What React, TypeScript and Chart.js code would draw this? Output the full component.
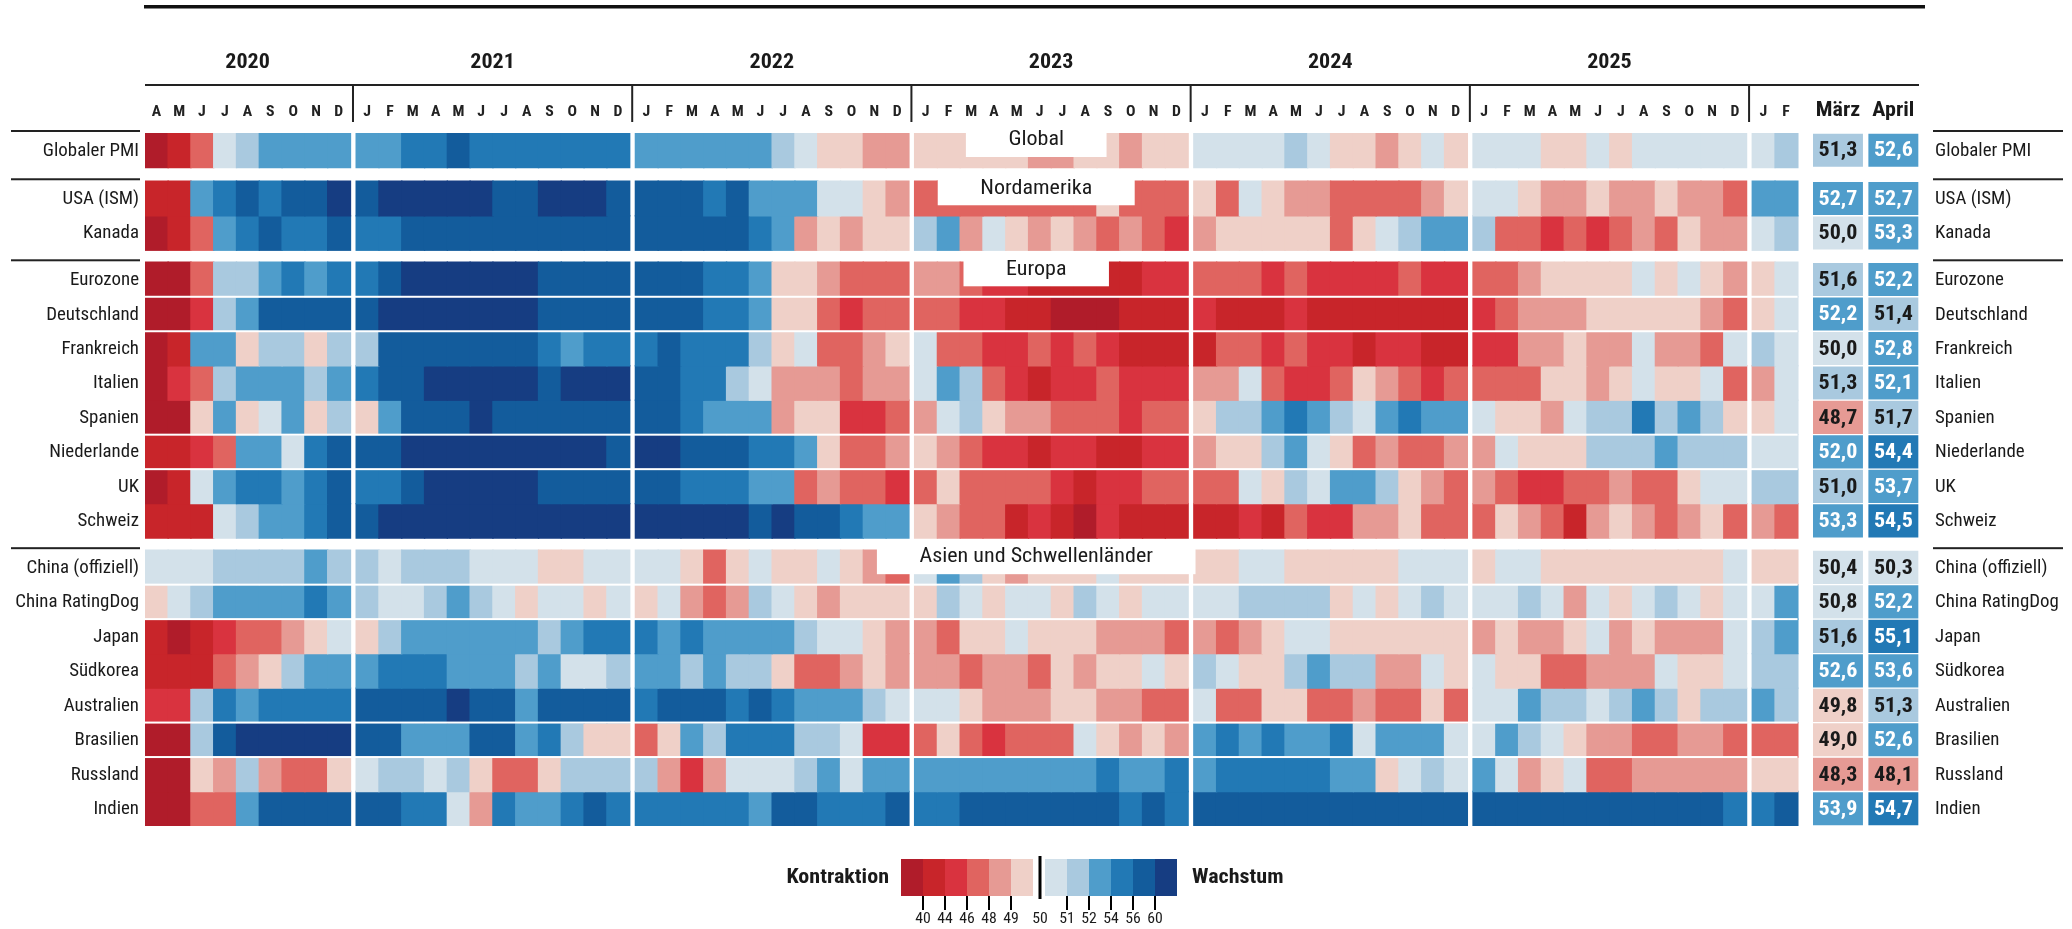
import React, { useEffect, useRef } from 'react';
import { Chart, registerables } from 'chart.js';

Chart.register(...registerables);

// ---------------- DATA ----------------
const yearLabels = ['2020', '2021', '2022', '2023', '2024', '2025', ''];
const months2020 = ['A', 'M', 'J', 'J', 'A', 'S', 'O', 'N', 'D'];
const monthsFull = ['J', 'F', 'M', 'A', 'M', 'J', 'J', 'A', 'S', 'O', 'N', 'D'];
const months2026 = ['J', 'F'];
const yearMonthLetters = [months2020, monthsFull, monthsFull, monthsFull, monthsFull, monthsFull, months2026];

const groupTitles = ['Global', 'Nordamerika', 'Europa', 'Asien und Schwellenländer'];
const groupRows = [
  ['Globaler PMI'],
  ['USA (ISM)', 'Kanada'],
  ['Eurozone', 'Deutschland', 'Frankreich', 'Italien', 'Spanien', 'Niederlande', 'UK', 'Schweiz'],
  ['China (offiziell)', 'China RatingDog', 'Japan', 'Südkorea', 'Australien', 'Brasilien', 'Russland', 'Indien'],
];

// monthly PMI estimates, Apr 2020 … Feb 2026 (71 values each)
const pmiGlobal = [
  38, 42, 47, 50.5, 51.5, 53, 53, 53, 53,
  53, 53, 55, 55, 58, 55, 55, 55, 55, 55, 55, 55,
  53, 53, 53, 53, 53, 53, 51.5, 50.5, 49.5, 49.5, 48.5, 48.5,
  49.5, 49.5, 49.5, 49.5, 49.5, 48.5, 48.5, 49.5, 49.5, 48.5, 49.5, 49.5,
  50.5, 50.5, 50.5, 50.5, 51.5, 50.5, 49.5, 49.5, 48.5, 49.5, 50.5, 49.5,
  50.5, 50.5, 50.5, 49.5, 49.5, 50.5, 49.5, 50.5, 50.5, 50.5, 50.5, 50.5,
  50.5, 51.5,
];
const pmiUSA = [
  42, 42, 53, 55, 58, 55, 58, 58, 62,
  58, 62, 62, 62, 62, 62, 58, 58, 62, 62, 62, 58,
  58, 58, 58, 55, 58, 53, 53, 53, 50.5, 50.5, 49.5, 48.5,
  47, 47, 47, 47, 47, 47, 47, 47, 49.5, 47, 47, 47,
  49.5, 47, 50.5, 49.5, 48.5, 48.5, 47, 47, 47, 47, 48.5, 49.5,
  50.5, 50.5, 49.5, 48.5, 48.5, 49.5, 48.5, 48.5, 49.5, 48.5, 48.5, 47,
  53, 53,
];
const pmiKanada = [
  38, 42, 47, 53, 55, 58, 55, 55, 58,
  55, 55, 58, 58, 58, 58, 58, 58, 58, 58, 58, 58,
  58, 58, 58, 58, 58, 55, 53, 48.5, 49.5, 48.5, 49.5, 49.5,
  51.5, 53, 48.5, 50.5, 49.5, 48.5, 49.5, 48.5, 47, 48.5, 47, 45,
  48.5, 49.5, 49.5, 49.5, 49.5, 49.5, 47, 49.5, 50.5, 51.5, 53, 53,
  51.5, 47, 47, 45, 47, 45, 47, 48.5, 47, 49.5, 48.5, 48.5,
  50.5, 51.5,
];
const pmiEurozone = [
  38, 38, 47, 51.5, 51.5, 53, 55, 53, 55,
  55, 58, 62, 62, 62, 62, 62, 62, 58, 58, 58, 58,
  58, 58, 58, 55, 55, 53, 49.5, 49.5, 48.5, 47, 47, 47,
  48.5, 48.5, 47, 45, 45, 42, 42, 42, 42, 42, 45, 45,
  47, 47, 47, 45, 47, 45, 45, 45, 45, 47, 45, 45,
  47, 47, 48.5, 49.5, 49.5, 49.5, 49.5, 50.5, 49.5, 50.5, 49.5, 48.5,
  49.5, 50.5,
];
const pmiDeutschland = [
  38, 38, 45, 51.5, 53, 58, 58, 58, 58,
  58, 62, 62, 62, 62, 62, 62, 62, 58, 58, 58, 58,
  58, 58, 58, 55, 55, 53, 49.5, 49.5, 47, 45, 47, 47,
  47, 47, 45, 45, 42, 42, 38, 38, 38, 42, 42, 42,
  45, 42, 42, 42, 45, 42, 42, 42, 42, 42, 42, 42,
  45, 47, 48.5, 48.5, 48.5, 49.5, 49.5, 49.5, 49.5, 49.5, 48.5, 47,
  49.5, 50.5,
];
const pmiFrankreich = [
  38, 42, 53, 53, 49.5, 51.5, 51.5, 49.5, 51.5,
  51.5, 58, 58, 58, 58, 58, 58, 58, 55, 53, 55, 55,
  55, 58, 55, 55, 55, 51.5, 49.5, 50.5, 47, 47, 48.5, 49.5,
  50.5, 47, 47, 45, 45, 47, 45, 47, 45, 42, 42, 42,
  42, 47, 47, 45, 47, 45, 45, 42, 45, 45, 42, 42,
  45, 45, 48.5, 48.5, 49.5, 48.5, 48.5, 50.5, 48.5, 48.5, 47, 50.5,
  51.5, 50.5,
];
const pmiItalien = [
  38, 45, 47, 51.5, 53, 53, 53, 51.5, 53,
  55, 58, 58, 62, 62, 62, 62, 62, 58, 62, 62, 62,
  58, 58, 55, 55, 51.5, 50.5, 48.5, 48.5, 48.5, 47, 48.5, 48.5,
  50.5, 53, 51.5, 47, 45, 42, 45, 45, 47, 45, 45, 45,
  48.5, 48.5, 50.5, 47, 45, 45, 47, 49.5, 48.5, 47, 45, 47,
  47, 47, 47, 49.5, 49.5, 48.5, 49.5, 50.5, 49.5, 49.5, 50.5, 47,
  48.5, 50.5,
];
const pmiSpanien = [
  38, 38, 49.5, 53, 49.5, 50.5, 53, 49.5, 51.5,
  49.5, 53, 58, 58, 58, 62, 58, 58, 58, 58, 58, 58,
  58, 58, 55, 53, 53, 53, 48.5, 49.5, 49.5, 45, 45, 47,
  48.5, 50.5, 51.5, 49.5, 48.5, 48.5, 47, 47, 47, 45, 47, 47,
  49.5, 51.5, 51.5, 53, 55, 53, 51.5, 50.5, 53, 55, 53, 53,
  50.5, 49.5, 49.5, 48.5, 50.5, 51.5, 51.5, 55, 51.5, 53, 51.5, 49.5,
  49.5, 50.5,
];
const pmiNiederlande = [
  42, 42, 45, 47, 53, 53, 50.5, 55, 58,
  58, 58, 62, 62, 62, 62, 62, 62, 62, 62, 62, 58,
  62, 62, 58, 58, 58, 55, 55, 53, 49.5, 47, 47, 48.5,
  49.5, 48.5, 47, 45, 45, 42, 45, 45, 42, 42, 45, 45,
  48.5, 49.5, 49.5, 51.5, 53, 50.5, 49.5, 47, 48.5, 47, 47, 48.5,
  48.5, 50.5, 49.5, 49.5, 49.5, 51.5, 51.5, 51.5, 53, 51.5, 51.5, 51.5,
  50.5, 50.5,
];
const pmiUK = [
  38, 42, 50.5, 53, 55, 55, 53, 55, 58,
  55, 55, 58, 62, 62, 62, 62, 62, 58, 58, 58, 58,
  58, 58, 55, 55, 55, 53, 53, 47, 48.5, 47, 47, 45,
  47, 49.5, 47, 47, 47, 47, 45, 42, 45, 45, 47, 47,
  47, 47, 50.5, 49.5, 51.5, 50.5, 53, 53, 51.5, 49.5, 48.5, 47,
  48.5, 47, 45, 45, 47, 47, 48.5, 47, 47, 49.5, 50.5, 50.5,
  51.5, 51.5,
];
const pmiSchweiz = [
  42, 42, 42, 50.5, 51.5, 53, 53, 55, 58,
  58, 62, 62, 62, 62, 62, 62, 62, 62, 62, 62, 62,
  62, 62, 62, 62, 62, 58, 62, 58, 58, 55, 53, 53,
  49.5, 48.5, 47, 47, 42, 45, 42, 38, 45, 42, 42, 42,
  42, 42, 45, 42, 47, 45, 45, 48.5, 48.5, 49.5, 47, 47,
  47, 49.5, 48.5, 47, 42, 48.5, 49.5, 48.5, 47, 48.5, 49.5, 47,
  48.5, 47,
];
const pmiChinaOffiziell = [
  50.5, 50.5, 50.5, 51.5, 51.5, 51.5, 51.5, 53, 51.5,
  51.5, 50.5, 51.5, 51.5, 51.5, 50.5, 50.5, 50.5, 49.5, 49.5, 50.5, 50.5,
  50.5, 50.5, 49.5, 47, 49.5, 50.5, 49.5, 49.5, 50.5, 49.5, 48.5, 47,
  50.5, 53, 51.5, 49.5, 48.5, 49.5, 49.5, 49.5, 50.5, 49.5, 49.5, 49.5,
  49.5, 49.5, 50.5, 50.5, 49.5, 49.5, 49.5, 49.5, 49.5, 50.5, 50.5, 50.5,
  49.5, 50.5, 50.5, 49.5, 49.5, 49.5, 49.5, 49.5, 49.5, 49.5, 49.5, 50.5,
  49.5, 49.5,
];
const pmiChinaRatingDog = [
  49.5, 50.5, 51.5, 53, 53, 53, 53, 55, 53,
  51.5, 50.5, 50.5, 51.5, 53, 51.5, 50.5, 49.5, 50.5, 50.5, 49.5, 50.5,
  49.5, 50.5, 48.5, 47, 48.5, 51.5, 50.5, 49.5, 48.5, 49.5, 49.5, 49.5,
  49.5, 51.5, 50.5, 49.5, 50.5, 50.5, 49.5, 51.5, 50.5, 49.5, 50.5, 50.5,
  50.5, 50.5, 51.5, 51.5, 51.5, 51.5, 49.5, 50.5, 49.5, 50.5, 51.5, 50.5,
  50.5, 50.5, 51.5, 50.5, 48.5, 50.5, 49.5, 50.5, 51.5, 50.5, 49.5, 50.5,
  50.5, 53,
];
const pmiJapan = [
  42, 38, 42, 45, 47, 47, 48.5, 49.5, 50.5,
  49.5, 51.5, 53, 53, 53, 53, 53, 53, 51.5, 53, 55, 55,
  55, 53, 55, 53, 53, 53, 53, 51.5, 50.5, 50.5, 49.5, 48.5,
  48.5, 47, 49.5, 49.5, 50.5, 49.5, 49.5, 49.5, 48.5, 48.5, 48.5, 47,
  48.5, 47, 48.5, 49.5, 50.5, 50.5, 49.5, 49.5, 49.5, 49.5, 49.5, 49.5,
  48.5, 49.5, 48.5, 48.5, 49.5, 50.5, 48.5, 49.5, 48.5, 48.5, 48.5, 50.5,
  51.5, 53,
];
const pmiSuedkorea = [
  42, 42, 42, 47, 48.5, 49.5, 51.5, 53, 53,
  53, 55, 55, 55, 53, 53, 53, 51.5, 53, 50.5, 50.5, 51.5,
  53, 53, 51.5, 53, 51.5, 51.5, 49.5, 47, 47, 48.5, 49.5, 48.5,
  48.5, 48.5, 47, 48.5, 48.5, 47, 49.5, 48.5, 49.5, 49.5, 50.5, 49.5,
  51.5, 50.5, 49.5, 49.5, 51.5, 53, 51.5, 51.5, 48.5, 48.5, 50.5, 49.5,
  50.5, 49.5, 49.5, 47, 47, 48.5, 48.5, 48.5, 50.5, 49.5, 49.5, 50.5,
  51.5, 51.5,
];
const pmiAustralien = [
  45, 45, 51.5, 55, 53, 55, 55, 55, 55,
  58, 58, 58, 58, 62, 58, 58, 53, 58, 58, 58, 58,
  55, 58, 58, 58, 55, 58, 55, 53, 53, 53, 51.5, 50.5,
  50.5, 50.5, 49.5, 48.5, 48.5, 48.5, 49.5, 49.5, 48.5, 48.5, 47, 47,
  50.5, 47, 47, 49.5, 49.5, 47, 47, 48.5, 47, 47, 49.5, 47,
  50.5, 50.5, 53, 51.5, 51.5, 50.5, 51.5, 53, 51.5, 49.5, 51.5, 51.5,
  53, 51.5,
];
const pmiBrasilien = [
  38, 38, 51.5, 58, 62, 62, 62, 62, 62,
  58, 58, 53, 53, 53, 58, 58, 53, 55, 51.5, 49.5, 49.5,
  47, 49.5, 53, 51.5, 55, 55, 55, 51.5, 51.5, 50.5, 45, 45,
  47, 49.5, 47, 45, 47, 47, 47, 50.5, 49.5, 48.5, 49.5, 48.5,
  53, 55, 53, 55, 53, 53, 55, 50.5, 53, 53, 53, 50.5,
  50.5, 53, 51.5, 50.5, 49.5, 48.5, 48.5, 47, 47, 48.5, 48.5, 47,
  47, 47,
];
const pmiRussland = [
  38, 38, 49.5, 48.5, 51.5, 48.5, 47, 47, 49.5,
  50.5, 51.5, 51.5, 50.5, 51.5, 49.5, 47, 47, 49.5, 51.5, 51.5, 51.5,
  51.5, 48.5, 45, 48.5, 50.5, 50.5, 50.5, 51.5, 53, 50.5, 53, 53,
  53, 53, 53, 53, 53, 53, 53, 53, 55, 53, 53, 55,
  53, 55, 55, 55, 55, 55, 53, 53, 49.5, 50.5, 51.5, 50.5,
  53, 50.5, 48.5, 49.5, 50.5, 47, 47, 48.5, 48.5, 48.5, 48.5, 48.5,
  49.5, 49.5,
];
const pmiIndien = [
  38, 38, 47, 47, 53, 58, 58, 58, 58,
  58, 58, 55, 55, 50.5, 48.5, 55, 53, 53, 55, 58, 55,
  55, 55, 55, 55, 55, 53, 58, 58, 55, 55, 55, 58,
  55, 55, 58, 58, 58, 58, 58, 58, 58, 55, 58, 55,
  58, 58, 58, 58, 58, 58, 58, 58, 58, 58, 58, 58,
  58, 58, 58, 58, 58, 58, 58, 58, 58, 58, 58, 55,
  55, 58,
];

const valueColumnLabels = ['März', 'April'];
const marchValues = [51.3, 52.7, 50.0, 51.6, 52.2, 50.0, 51.3, 48.7, 52.0, 51.0, 53.3, 50.4, 50.8, 51.6, 52.6, 49.8, 49.0, 48.3, 53.9];
const aprilValues = [52.6, 52.7, 53.3, 52.2, 51.4, 52.8, 52.1, 51.7, 54.4, 53.7, 54.5, 50.3, 52.2, 55.1, 53.6, 51.3, 52.6, 48.1, 54.7];

const binThresholds = [40, 44, 46, 48, 49, 50, 51, 52, 54, 56, 60];
const binColors = ['#B01C2A', '#C8252A', '#D9333F', '#E06460', '#E69A94', '#EFD0C8', '#D3E1EA', '#A9C9DF', '#4F9DCB', '#2279B5', '#135C9C', '#163D82'];
const legendLowLabel = 'Kontraktion';
const legendHighLabel = 'Wachstum';

const rowSeparatorsAfter = ['Eurozone', 'Deutschland', 'Spanien', 'Niederlande', 'China (offiziell)', 'China RatingDog', 'Australien', 'Brasilien'];

const heatSeries = [
  pmiGlobal, pmiUSA, pmiKanada, pmiEurozone, pmiDeutschland, pmiFrankreich, pmiItalien, pmiSpanien,
  pmiNiederlande, pmiUK, pmiSchweiz, pmiChinaOffiziell, pmiChinaRatingDog, pmiJapan, pmiSuedkorea,
  pmiAustralien, pmiBrasilien, pmiRussland, pmiIndien,
];
const valueSeries = [marchValues, aprilValues];

// ---------------- LAYOUT / STYLE ----------------
const CANVAS_W = 2072;
const CANVAS_H = 929;
const PAD = { left: 145, right: 153, top: 133, bottom: 103 };
const YEAR_GAP = 0.25;
const CELL_OVERLAP = 0.03;
const GROUP_GAPS = [0.4, 0.35, 0.35];
const VALUE_COL_START = 73.15;
const VALUE_COL_W = 2.25;
const VALUE_COL_GAP = 0.18;
const SECTION_LABEL_X = 39.1;
const LEGEND_CX = 1040;
const TEXT = '#1a1a1a';

const binIndex = (v: number) => binThresholds.filter((t) => v >= t).length;
const colorFor = (v: number) => binColors[binIndex(v)];
const fmt = (v: number) => v.toFixed(1).replace('.', ',');

const columns: { start: number; letter: string }[] = [];
const blocks: { start: number; end: number; label: string }[] = [];
{
  let cursor = 0;
  yearMonthLetters.forEach((letters, yi) => {
    if (yi > 0) cursor += YEAR_GAP;
    const start = cursor;
    letters.forEach((l) => {
      columns.push({ start: cursor, letter: l });
      cursor += 1;
    });
    blocks.push({ start, end: cursor, label: yearLabels[yi] });
  });
}
const valueCols = valueColumnLabels.map((label, k) => {
  const start = VALUE_COL_START + k * (VALUE_COL_W + VALUE_COL_GAP);
  return { label, start, end: start + VALUE_COL_W };
});
const X_MAX = valueCols[valueCols.length - 1].end;

const rows: { name: string; top: number }[] = [];
const groupInfo: { title: string; top: number }[] = [];
{
  let y = 0;
  groupRows.forEach((names, gi) => {
    if (gi > 0) y += GROUP_GAPS[gi - 1];
    groupInfo.push({ title: groupTitles[gi], top: y });
    names.forEach((n) => {
      rows.push({ name: n, top: y });
      y += 1;
    });
  });
}
const Y_MAX = rows[rows.length - 1].top + 1;
const ROW_PX = (CANVAS_H - PAD.top - PAD.bottom) / Y_MAX;

// ---------------- FONT ----------------
const fontState = { family: 'Roboto, sans-serif', sx: 1 };
function detectFont() {
  const c = document.createElement('canvas').getContext('2d');
  if (!c) return;
  const sample = 'China RatingDog';
  const target = 126;
  c.font = '18px monospace';
  const mono = c.measureText(sample).width;
  const candidates = ['Roboto Condensed', 'Liberation Sans Narrow', 'DejaVu Sans Condensed', 'Arial Narrow', 'Roboto', 'Liberation Sans'];
  for (const f of candidates) {
    c.font = `18px "${f}", monospace`;
    const w = c.measureText(sample).width;
    if (Math.abs(w - mono) > 0.5) {
      fontState.family = `"${f}", sans-serif`;
      fontState.sx = Math.max(0.7, Math.min(1.05, target / w));
      return;
    }
  }
}

function drawText(ctx: CanvasRenderingContext2D, text: string, x: number, y: number, size: number, weight: string, align: CanvasTextAlign, color: string) {
  ctx.save();
  ctx.font = `${weight} ${size}px ${fontState.family}`;
  ctx.fillStyle = color;
  ctx.textAlign = align;
  ctx.textBaseline = 'middle';
  ctx.translate(x, y);
  ctx.scale(fontState.sx, 1);
  ctx.fillText(text, 0, 0);
  ctx.restore();
}
function textWidth(ctx: CanvasRenderingContext2D, text: string, size: number, weight: string) {
  ctx.save();
  ctx.font = `${weight} ${size}px ${fontState.family}`;
  const w = ctx.measureText(text).width * fontState.sx;
  ctx.restore();
  return w;
}

// ---------------- PLUGIN ----------------
const overlayPlugin = {
  id: 'pmiOverlay',
  afterDatasetsDraw(chart: any) {
    const ctx: CanvasRenderingContext2D = chart.ctx;
    const xs = (v: number) => chart.scales.x.getPixelForValue(v);
    const ys = (v: number) => chart.scales.y.getPixelForValue(v);
    ctx.save();
    // thin white separators between some rows
    const hmStart = xs(0);
    const hmEnd = xs(blocks[blocks.length - 1].end);
    ctx.fillStyle = '#ffffff';
    rows.forEach((r) => {
      if (rowSeparatorsAfter.includes(r.name)) {
        const y = ys(r.top + 1);
        ctx.fillRect(hmStart, y - 1, hmEnd - hmStart, 2);
      }
    });
    // section label boxes
    groupInfo.forEach((g) => {
      const top = ys(g.top);
      const cx = xs(SECTION_LABEL_X);
      const bw = textWidth(ctx, g.title, 21, 'normal') + 85;
      ctx.fillStyle = '#ffffff';
      ctx.fillRect(cx - bw / 2, top - 10, bw, 34);
      drawText(ctx, g.title, cx, top + 7, 21, 'normal', 'center', TEXT);
    });
    // numbers in the value columns
    valueSeries.forEach((vals, k) => {
      const meta = chart.getDatasetMeta(rows.length + k);
      meta.data.forEach((el: any, i: number) => {
        const v = vals[i];
        const b = binIndex(v);
        const color = b >= 8 || b <= 2 ? '#ffffff' : TEXT;
        drawText(ctx, fmt(v), (el.x + el.base) / 2, el.y + 1, 21, 'bold', 'center', color);
      });
    });
    ctx.restore();
  },
  afterDraw(chart: any) {
    const ctx: CanvasRenderingContext2D = chart.ctx;
    const xs = (v: number) => chart.scales.x.getPixelForValue(v);
    const ys = (v: number) => chart.scales.y.getPixelForValue(v);
    const x0 = xs(0);
    const x1 = xs(X_MAX);
    ctx.save();
    // top rule
    ctx.fillStyle = '#111111';
    ctx.fillRect(x0 - 1, 5, x1 + 6 - (x0 - 1), 3.5);
    // year labels
    blocks.forEach((b) => {
      if (b.label) drawText(ctx, b.label, (xs(b.start) + xs(b.end)) / 2, 63, 21, 'bold', 'center', TEXT);
    });
    // rule under years + vertical year separators
    ctx.fillStyle = '#222222';
    ctx.fillRect(x0, 84, x1 - x0, 2);
    blocks.forEach((b, i) => {
      if (i === 0) return;
      const x = xs(b.start - YEAR_GAP / 2);
      ctx.fillRect(x - 1, 85, 2, 37);
    });
    // month letters
    columns.forEach((c) => drawText(ctx, c.letter, xs(c.start + 0.5), 112, 15, 'bold', 'center', '#222222'));
    // value column headers
    valueCols.forEach((vc) => drawText(ctx, vc.label, (xs(vc.start) + xs(vc.end)) / 2, 111, 21, 'bold', 'center', TEXT));
    // group rules left/right
    ctx.fillStyle = '#222222';
    groupInfo.forEach((g) => {
      const y = ys(g.top) - 2;
      ctx.fillRect(11, y - 1, x0 - 5 - 11, 2);
      ctx.fillRect(x1 + 14, y - 1, 130, 2);
    });
    // row labels
    rows.forEach((r) => {
      const y = ys(r.top + 0.5) + 1;
      drawText(ctx, r.name, x0 - 6, y, 18, 'normal', 'right', TEXT);
      drawText(ctx, r.name, x1 + 16, y, 18, 'normal', 'left', TEXT);
    });
    // legend
    const sw = 22;
    const sy = 859;
    const sh = 37;
    const cx = LEGEND_CX;
    const swatchX = (i: number) => (i < 6 ? cx - 7 - (6 - i) * sw : cx + 5 + (i - 6) * sw);
    binColors.forEach((col, i) => {
      ctx.fillStyle = col;
      ctx.fillRect(swatchX(i), sy, sw, sh);
    });
    ctx.fillStyle = '#000000';
    ctx.fillRect(cx - 1.5, sy - 3, 3, sh + 6);
    binThresholds.forEach((t, i) => {
      let x: number;
      if (i < 5) x = swatchX(i + 1);
      else if (i === 5) x = cx;
      else x = swatchX(i + 1);
      if (i !== 5) {
        ctx.fillStyle = '#000000';
        ctx.fillRect(x - 1, sy + sh, 2, 14);
      }
      drawText(ctx, String(t), x, 919, 15, 'normal', 'center', TEXT);
    });
    drawText(ctx, legendLowLabel, swatchX(0) - 12, sy + sh / 2, 21, 'bold', 'right', TEXT);
    drawText(ctx, legendHighLabel, swatchX(11) + sw + 15, sy + sh / 2, 21, 'bold', 'left', TEXT);
    ctx.restore();
  },
};

// ---------------- CHART ----------------
function buildConfig(): any {
  const datasets: any[] = rows.map((r, ri) => ({
    label: r.name,
    data: heatSeries[ri].map((v, ci) => ({
      x: [columns[ci].start, columns[ci].start + 1 + CELL_OVERLAP],
      y: r.top + 0.5,
      v,
    })),
    backgroundColor: heatSeries[ri].map(colorFor),
    borderWidth: 0,
    grouped: false,
    barThickness: ROW_PX * 1.02,
  }));
  valueSeries.forEach((vals, k) => {
    datasets.push({
      label: valueCols[k].label,
      data: vals.map((v, ri) => ({ x: [valueCols[k].start, valueCols[k].end], y: rows[ri].top + 0.5, v })),
      backgroundColor: vals.map(colorFor),
      borderColor: '#ffffff',
      borderWidth: 1,
      borderSkipped: false,
      grouped: false,
      barThickness: ROW_PX,
    });
  });
  return {
    type: 'bar',
    data: { datasets },
    options: {
      indexAxis: 'y',
      animation: false,
      responsive: false,
      devicePixelRatio: 1,
      events: [],
      layout: { padding: PAD },
      scales: {
        x: { type: 'linear', min: 0, max: X_MAX, display: false, offset: false, grid: { display: false } },
        y: { type: 'linear', min: 0, max: Y_MAX, reverse: true, display: false, offset: false, ticks: { stepSize: 5 }, grid: { display: false } },
      },
      plugins: { legend: { display: false }, tooltip: { enabled: false }, title: { display: false } },
    },
    plugins: [overlayPlugin],
  };
}

export default function App() {
  const ref = useRef<HTMLCanvasElement>(null);
  useEffect(() => {
    document.body.style.margin = '0';
    document.body.style.overflow = 'hidden';
    detectFont();
    const chart = new Chart(ref.current as HTMLCanvasElement, buildConfig());
    return () => chart.destroy();
  }, []);
  return (
    <div style={{ position: 'absolute', left: 0, top: 0, width: CANVAS_W, height: CANVAS_H, background: '#ffffff' }}>
      <canvas ref={ref} width={CANVAS_W} height={CANVAS_H} style={{ width: CANVAS_W, height: CANVAS_H, display: 'block' }} />
    </div>
  );
}
